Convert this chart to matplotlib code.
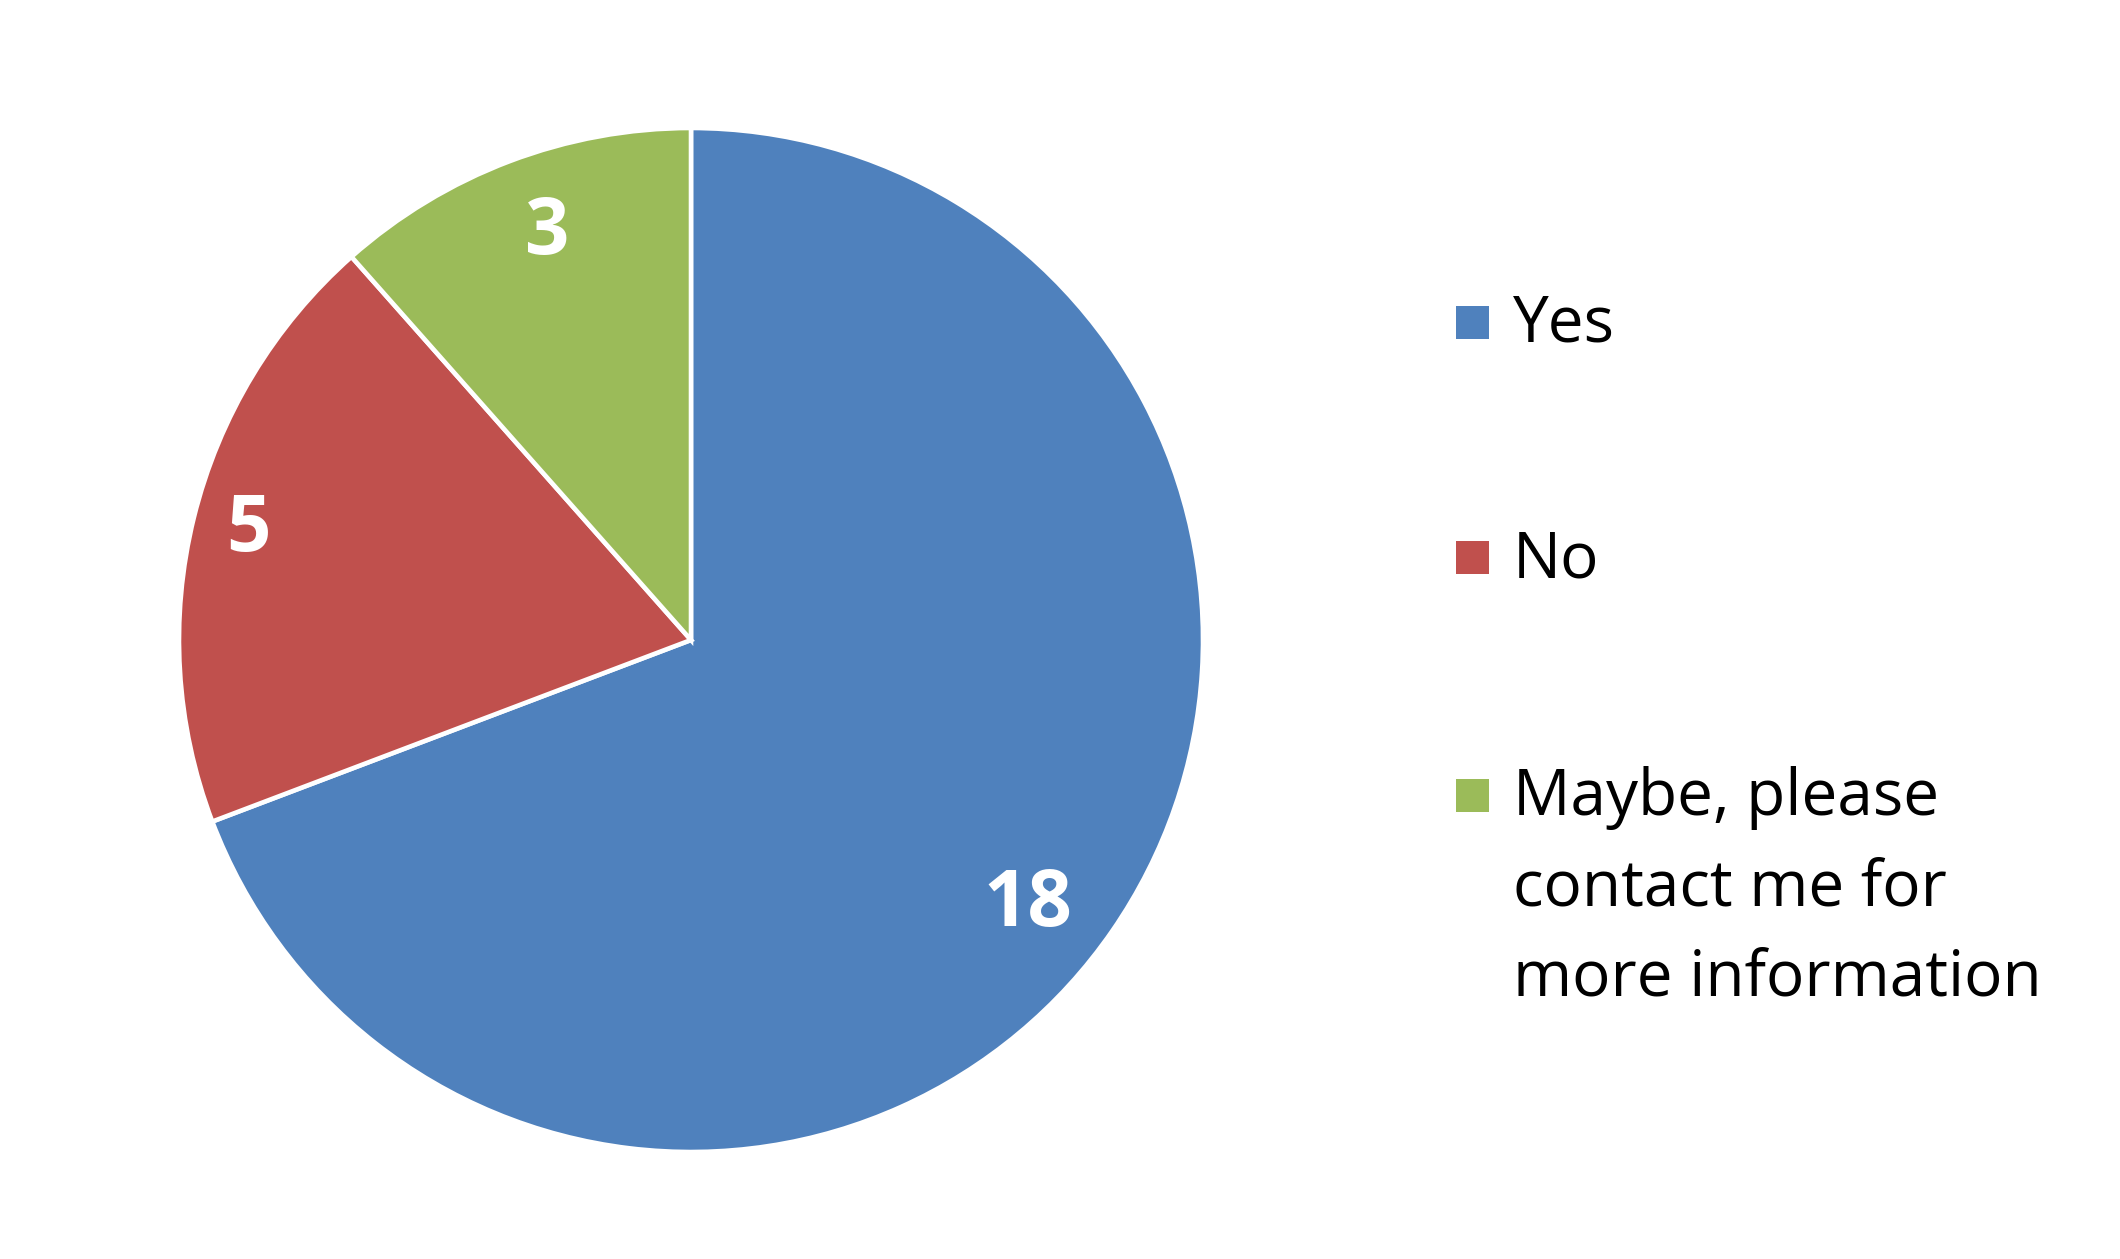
import matplotlib
matplotlib.use('Agg')
import matplotlib.pyplot as plt
from matplotlib.patches import Rectangle
import numpy as np

# survey answers
categories = ["Yes", "No", "Maybe, please\ncontact me for\nmore information"]
counts = [18, 5, 3]
colors = ["#4F81BD", "#C0504D", "#9BBB59"]

W, H = 2120, 1259
fig = plt.figure(figsize=(W / 100, H / 100), dpi=100)
fig.patch.set_facecolor("white")

# pie centred at (691, 640) px, radius 512 px
cx, cy, r = 691, 640, 512
ax = fig.add_axes([(cx - r) / W, (H - cy - r) / H, 2 * r / W, 2 * r / H])
total = sum(counts)
wedges, texts, autotexts = ax.pie(
    counts, colors=colors, startangle=90, counterclock=False,
    autopct=lambda p: f"{int(round(p * total / 100))}", pctdistance=0.86,
    wedgeprops=dict(edgecolor="white", linewidth=3.3),
    textprops=dict(color="white", fontsize=56, fontweight="bold", family="Open Sans"))

# label placement per slice (Excel-ish: distance from centre + small nudge)
label_dist = [0.83, 0.89, 0.85]
nudge = [(-0.026, -0.047), (0.0, 0.0), (0.021, 0.0)]
for w, t, d, (nx, ny) in zip(wedges, autotexts, label_dist, nudge):
    ang = np.deg2rad((w.theta1 + w.theta2) / 2)
    t.set_position((d * np.cos(ang) + nx, d * np.sin(ang) + ny))
    t.set_va("center")
    t.set_ha("center")
ax.set_xlim(-1, 1)
ax.set_ylim(-1, 1)
ax.set_aspect("equal")
ax.axis("off")

# legend drawn by hand so the square sits on the first line
sq = 33
baselines = [342, 577, 815]
line_gap = 90
for lab, col, yb in zip(categories, colors, baselines):
    yc = yb - 20
    fig.patches.append(Rectangle((1456 / W, (H - yc - sq / 2) / H), sq / W, sq / H,
                                 transform=fig.transFigure, facecolor=col,
                                 edgecolor="none"))
    for k, line in enumerate(lab.split("\n")):
        fig.text(1513 / W, (H - yb - k * line_gap) / H, line, fontsize=46,
                 family="Open Sans", color="black", ha="left", va="baseline")

fig.savefig("out.png", dpi=100, facecolor="white")
